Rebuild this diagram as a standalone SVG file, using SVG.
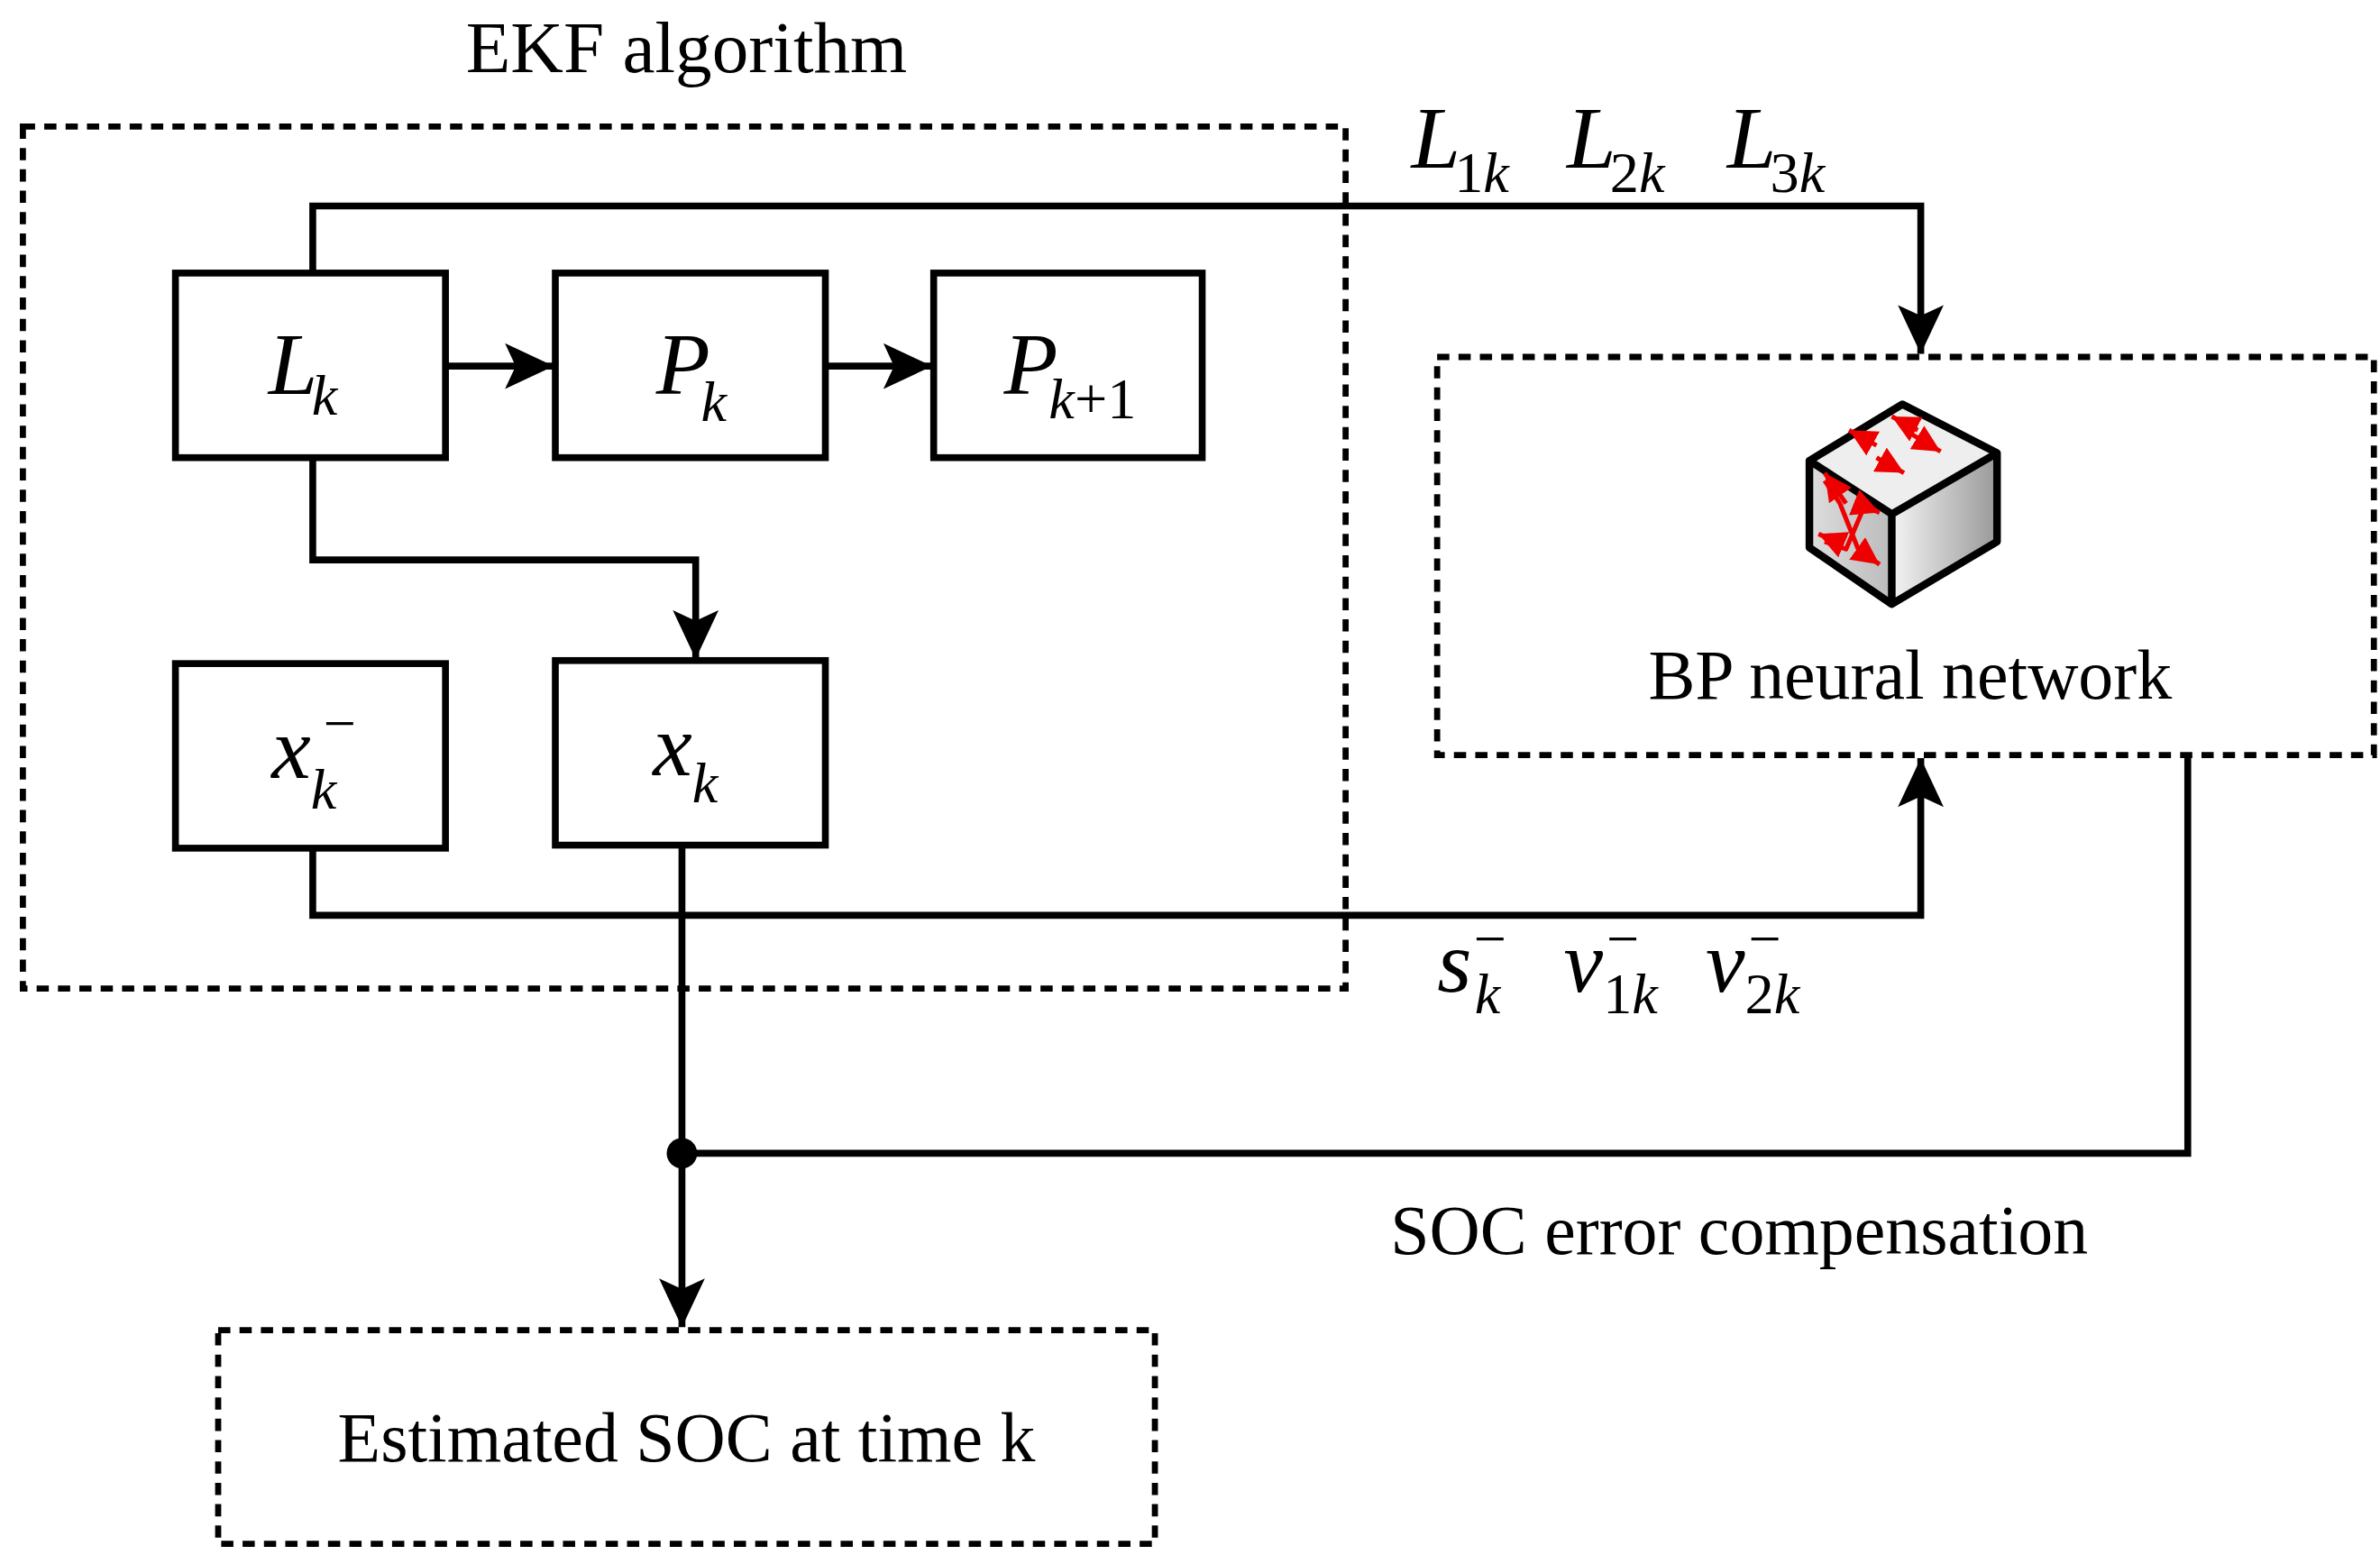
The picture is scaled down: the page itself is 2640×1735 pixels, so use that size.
<svg xmlns="http://www.w3.org/2000/svg" width="2640" height="1735" viewBox="0 0 2640 1735">
<defs>
<style>
.box{fill:#fff;stroke:#000;stroke-width:4.5}
.dash{fill:none;stroke:#000;stroke-width:4;stroke-dasharray:8 6}
.ln{fill:none;stroke:#000;stroke-width:4.5}
.t{font-family:"Liberation Serif","Times New Roman",serif;fill:#000}
.i{font-family:"Liberation Serif","Times New Roman",serif;font-style:italic;fill:#000}
.n{font-style:normal}
.red{stroke:#e00;stroke-width:3;fill:none}
</style>
<marker id="ah" viewBox="0 0 32 30" refX="32" refY="15" markerWidth="32" markerHeight="30" markerUnits="userSpaceOnUse" orient="auto"><path d="M0,0 L32,15 L0,30 L7,15 Z" fill="#000"/></marker>
<marker id="ra" viewBox="0 0 10 10" refX="10" refY="5" markerWidth="6" markerHeight="6" orient="auto"><path d="M0,0 L10,5 L0,10 Z" fill="#e00"/></marker>
<linearGradient id="gR" x1="0" x2="1"><stop offset="0" stop-color="#f4f4f4"/><stop offset="1" stop-color="#999"/></linearGradient>
<linearGradient id="gL" x1="0" x2="1"><stop offset="0" stop-color="#ddd"/><stop offset="1" stop-color="#bbb"/></linearGradient>
</defs>
<rect width="2640" height="1735" fill="#fff"/>
<g transform="scale(1.6923)">
<text class="t" x="450" y="47" font-size="48" text-anchor="middle">EKF algorithm</text>
<rect id="ekf" class="dash" x="15" y="83" width="867" height="565"/>
<g id="connectors">
<path class="ln" d="M205,179 V135 H1259 V232" marker-end="url(#ah)"/>
<path class="ln" d="M292,240 H363" marker-end="url(#ah)"/>
<path class="ln" d="M541,240 H611" marker-end="url(#ah)"/>
<path class="ln" d="M205,300 V367 H456 V432" marker-end="url(#ah)"/>
<path class="ln" d="M205,556 V600 H1259 V497" marker-end="url(#ah)"/>
<path class="ln" d="M447,554 V870" marker-end="url(#ah)"/>
<path class="ln" d="M1434,495 V756 H447"/>
<circle cx="447" cy="756" r="10" fill="#000"/>
</g>
<g id="Lk"><rect class="box" x="115" y="179" width="177" height="121"/>
<text class="i" x="176" y="258" font-size="58">L<tspan font-size="38" dy="14" dx="-4">k</tspan></text></g>
<g id="Pk"><rect class="box" x="364" y="179" width="177" height="121"/>
<text class="i" x="430" y="258" font-size="58">P<tspan font-size="38" dy="18" dx="-6">k</tspan></text></g>
<g id="Pk1"><rect class="box" x="612" y="179" width="176" height="121"/>
<text class="i" x="658" y="258" font-size="58">P<tspan font-size="38" dy="16" dx="-6">k</tspan><tspan class="n" font-size="38">+1</tspan></text></g>
<g id="xkm"><rect class="box" x="115" y="435" width="177" height="121"/>
<text class="i" x="178" y="510" font-size="58">x<tspan font-size="38" dy="20" dx="0">k</tspan></text><text class="t" x="212" y="487" font-size="38">−</text></g>
<g id="xk"><rect class="box" x="364" y="433" width="177" height="121"/>
<text class="i" x="428" y="508" font-size="58">x<tspan font-size="38" dy="18" dx="0">k</tspan></text></g>
<g id="Llabels">
<text class="i" x="925" y="110" font-size="58">L<tspan class="n" font-size="38" dy="16" dx="-4">1</tspan><tspan font-size="38">k</tspan></text>
<text class="i" x="1027" y="110" font-size="58">L<tspan class="n" font-size="38" dy="16" dx="-4">2</tspan><tspan font-size="38">k</tspan></text>
<text class="i" x="1132" y="110" font-size="58">L<tspan class="n" font-size="38" dy="16" dx="-4">3</tspan><tspan font-size="38">k</tspan></text>
</g>
<g id="slabels">
<text class="i" x="942" y="650" font-size="58">s<tspan font-size="38" dy="14" dx="2">k</tspan></text><text class="t" x="966" y="628" font-size="38">−</text>
<text class="i" x="1025" y="650" font-size="58">v<tspan class="n" font-size="38" dy="14" dx="0">1</tspan><tspan font-size="38">k</tspan></text><text class="t" x="1053" y="628" font-size="38">−</text>
<text class="i" x="1118" y="650" font-size="58">v<tspan class="n" font-size="38" dy="14" dx="0">2</tspan><tspan font-size="38">k</tspan></text><text class="t" x="1146" y="628" font-size="38">−</text>
</g>
<g id="bp"><rect class="dash" x="942" y="234" width="614" height="261"/>
<g id="cube" stroke-linejoin="round">
<path d="M1186,302 L1240,337 L1240,396 L1186,359 Z" fill="url(#gL)"/>
<path d="M1240,337 L1309,297 L1309,355 L1240,396 Z" fill="url(#gR)"/>
<path d="M1186,302 L1247,265 L1309,297 L1240,337 Z" fill="#eee"/>
<path d="M1186,302 L1247,265 L1309,297 L1309,355 L1240,396 L1186,359 Z M1186,302 L1240,337 L1309,297 M1240,337 V396" fill="none" stroke="#000" stroke-width="5"/>
<path class="red" d="M1257,282 L1240,273" marker-end="url(#ra)"/><path class="red" d="M1252,284 L1272,296" marker-end="url(#ra)"/>
<path class="red" d="M1230,292 L1212,282" marker-end="url(#ra)"/><path class="red" d="M1230,300 L1248,310" marker-end="url(#ra)"/>
<path class="red" d="M1196,315 L1206,330 L1218,360 L1232,370" marker-end="url(#ra)"/>
<path class="red" d="M1196,355 L1210,360 L1222,332 L1232,336" marker-end="url(#ra)"/>
<path class="red" d="M1210,330 L1196,310" marker-end="url(#ra)"/><path class="red" d="M1206,356 L1192,350" marker-end="url(#ra)"/>
</g>
<text class="t" x="1252" y="458" font-size="46" text-anchor="middle">BP neural network</text></g>
<text class="t" x="1140" y="822" font-size="46" text-anchor="middle">SOC error compensation</text>
<g id="est"><rect class="dash" x="143" y="872" width="614" height="140"/>
<text class="t" x="450" y="958" font-size="46" text-anchor="middle">Estimated SOC at time k</text></g>
</g>
</svg>
